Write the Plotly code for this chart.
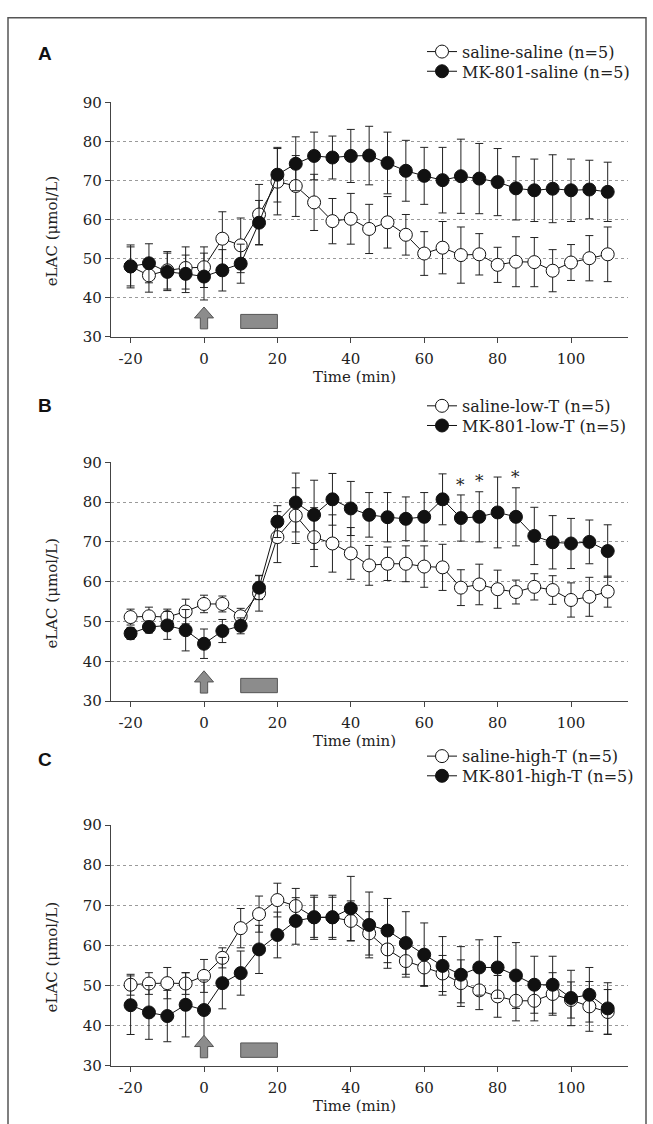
import plotly.graph_objects as go

# ---------------- data ----------------
TIME_MIN = [-20, -15, -10, -5, 0, 5, 10, 15, 20, 25, 30, 35, 40, 45, 50,
            55, 60, 65, 70, 75, 80, 85, 90, 95, 100, 105, 110]
X_TICKS = [-20, 0, 20, 40, 60, 80, 100]
X_TICKTEXT = ["-20", "0", "20", "40", "60", "80", "100"]
Y_TICKS = [30, 40, 50, 60, 70, 80, 90]

# Panel A
A_SAL_NAME = "saline-saline (n=5)"
A_SAL_MEAN = [48.0, 45.7, 47.0, 47.6, 47.8, 55.1, 53.4, 61.3, 69.7, 68.6, 64.4, 59.6, 60.2, 57.6,
              59.3, 56.1, 51.3, 52.8, 50.9, 51.1, 48.4, 49.2, 49.1, 46.9, 49.0, 50.1, 51.1]
A_SAL_SEM = [5.0, 4.3, 4.8, 5.4, 5.2, 6.9, 7.0, 7.7, 8.5, 7.8, 7.2, 5.8, 6.5, 6.3,
             6.6, 5.2, 5.6, 6.7, 7.2, 5.3, 4.5, 6.4, 6.3, 5.4, 4.6, 5.8, 7.0]
A_MK_NAME = "MK-801-saline (n=5)"
A_MK_MEAN = [48.0, 48.8, 46.6, 46.1, 45.4, 47.0, 48.7, 59.2, 71.5, 74.3, 76.3, 75.9, 76.3, 76.4,
             74.5, 72.5, 71.2, 70.1, 71.1, 70.5, 69.6, 68.0, 67.5, 67.9, 67.5, 67.7, 67.1]
A_MK_SEM = [5.5, 5.0, 4.8, 4.8, 6.0, 5.3, 5.0, 5.7, 7.0, 6.9, 6.1, 5.5, 6.8, 7.5,
            7.9, 7.8, 7.3, 8.4, 9.5, 9.0, 8.6, 8.1, 8.0, 8.7, 8.0, 7.5, 7.6]

# Panel B
B_SAL_NAME = "saline-low-T (n=5)"
B_SAL_MEAN = [51.1, 51.3, 51.1, 52.5, 54.4, 54.4, 51.3, 57.1, 71.2, 76.6, 71.2, 69.6, 67.1, 64.1,
              64.5, 64.5, 63.8, 63.6, 58.5, 59.3, 58.1, 57.4, 58.7, 57.9, 55.4, 56.2, 57.5]
B_SAL_SEM = [2.0, 2.3, 2.0, 3.1, 2.2, 2.0, 2.0, 4.5, 6.4, 7.0, 7.4, 7.2, 6.5, 5.0,
             4.2, 4.5, 5.2, 5.8, 4.5, 5.1, 4.8, 3.0, 3.3, 3.6, 4.3, 4.9, 3.9]
B_MK_NAME = "MK-801-low-T (n=5)"
B_MK_MEAN = [47.0, 48.6, 49.0, 47.8, 44.4, 47.6, 48.9, 58.5, 75.1, 79.9, 76.8, 80.7, 78.4, 76.8,
             76.2, 75.8, 76.3, 80.7, 76.0, 76.3, 77.4, 76.3, 71.5, 69.9, 69.6, 70.0, 67.7]
B_MK_SEM = [1.5, 1.5, 3.5, 5.2, 3.7, 2.9, 2.0, 3.0, 4.0, 7.4, 8.7, 6.5, 6.8, 5.6,
            6.2, 5.5, 6.1, 6.4, 5.8, 6.3, 8.9, 7.3, 7.2, 6.7, 6.3, 5.5, 6.6]
B_SIG_TIMES = [70, 75, 85]

# Panel C
C_SAL_NAME = "saline-high-T (n=5)"
C_SAL_MEAN = [50.2, 50.5, 50.6, 50.5, 52.4, 56.9, 64.3, 67.8, 71.3, 69.8, 67.0, 67.0, 66.1, 63.0,
              59.0, 56.1, 54.5, 53.0, 50.6, 48.8, 47.3, 46.2, 46.2, 47.9, 46.4, 44.8, 43.4]
C_SAL_SEM = [2.6, 2.7, 3.9, 2.7, 4.1, 2.5, 4.9, 4.5, 4.2, 4.4, 5.0, 5.0, 5.0, 5.4,
             4.7, 4.0, 4.5, 4.5, 5.8, 4.8, 5.2, 5.0, 5.0, 5.3, 4.5, 6.2, 5.6]
C_MK_NAME = "MK-801-high-T (n=5)"
C_MK_MEAN = [45.1, 43.3, 42.4, 45.2, 43.9, 50.6, 53.1, 59.0, 62.6, 66.1, 67.0, 67.0, 69.2, 65.1,
             63.7, 60.6, 57.7, 54.9, 52.7, 54.5, 54.5, 52.5, 50.2, 50.2, 46.9, 47.7, 44.3]
C_MK_SEM = [7.3, 6.7, 6.4, 8.0, 7.5, 6.4, 5.5, 6.0, 5.7, 5.8, 5.5, 5.5, 8.0, 8.2,
            8.0, 7.8, 7.9, 7.3, 7.0, 6.9, 7.7, 8.2, 7.1, 7.1, 6.9, 6.8, 6.4]

# experimental events (minutes)
INJECTION_TIME = 0
STIM_START, STIM_END = 10, 20

# ---------------- layout constants ----------------
W, H = 653, 1124
SERIF = "DejaVu Serif"
TXT = "#222222"
AX = "#444444"


def py(v):  # pixel-from-top -> paper fraction
    return 1 - v / H


def px(v):
    return v / W


PANELS = [
    dict(letter="A", sal=(A_SAL_NAME, A_SAL_MEAN, A_SAL_SEM), mk=(A_MK_NAME, A_MK_MEAN, A_MK_SEM),
         top=95.0, bottom=333.0, rows=(43, 63), letter_y=45, sig=[]),
    dict(letter="B", sal=(B_SAL_NAME, B_SAL_MEAN, B_SAL_SEM), mk=(B_MK_NAME, B_MK_MEAN, B_MK_SEM),
         top=460.7, bottom=703.3, rows=(403, 423), letter_y=403, sig=B_SIG_TIMES),
    dict(letter="C", sal=(C_SAL_NAME, C_SAL_MEAN, C_SAL_SEM), mk=(C_MK_NAME, C_MK_MEAN, C_MK_SEM),
         top=829.3, bottom=1074.0, rows=(759, 779), letter_y=763, sig=[]),
]

X_LEFT, X_RIGHT = 111.0, 628.0
X_RANGE = [-25.34, 115.53]
LEG_FONT = 16
LEG_ROW_OFFSET = 5 + (LEG_FONT * 1.3 + 3) / 2  # legend top -> first row centre

fig = go.Figure()
annotations = []
shapes = []
layout = {}
leg_count = 0

for i, p in enumerate(PANELS):
    n = "" if i == 0 else str(i + 1)
    xa, ya = "x" + n, "y" + n

    for (name, mean, sem), filled, row in ((p["sal"], False, p["rows"][0]),
                                           (p["mk"], True, p["rows"][1])):
        leg_count += 1
        leg = "legend" if leg_count == 1 else "legend%d" % leg_count
        fig.add_trace(go.Scatter(
            x=TIME_MIN, y=mean, name=name, mode="lines+markers",
            xaxis=xa, yaxis=ya, legend=leg,
            line=dict(color="#111111", width=1),
            marker=dict(symbol="circle", size=13,
                        color="#111111" if filled else "white",
                        line=dict(color="#111111", width=1)),
            error_y=dict(type="data", array=sem, visible=True,
                         color="#222222", thickness=1, width=4),
            cliponaxis=False,
        ))
        layout[leg] = dict(
            x=px(422), xanchor="left", y=py(row - LEG_ROW_OFFSET), yanchor="top",
            bgcolor="rgba(0,0,0,0)", borderwidth=0,
            font=dict(family=SERIF, size=LEG_FONT, color=TXT), itemwidth=30,
        )

    layout["xaxis" + n] = dict(
        domain=[px(X_LEFT), px(X_RIGHT)], range=X_RANGE, anchor=ya,
        tickvals=X_TICKS, ticktext=X_TICKTEXT,
        showline=True, linecolor=AX, linewidth=1.2, ticks="outside", ticklen=5,
        tickcolor=AX, tickwidth=1, showgrid=False, zeroline=False,
        tickfont=dict(family=SERIF, size=15, color=TXT), ticklabelstandoff=3,
    )
    layout["yaxis" + n] = dict(
        domain=[py(p["bottom"]), py(p["top"])], range=[30, 90], anchor=xa,
        tickvals=Y_TICKS, showline=True, linecolor=AX, linewidth=1.2,
        ticks="outside", ticklen=5, tickcolor=AX, tickwidth=1,
        showgrid=True, gridcolor="#9a9a9a", gridwidth=1, griddash="dot",
        zeroline=False, tickfont=dict(family=SERIF, size=15, color=TXT),
    )

    # panel letter
    annotations.append(dict(text="<b>%s</b>" % p["letter"], xref="paper", yref="paper",
                            x=px(45), y=py(p["letter_y"]), xanchor="center", yanchor="middle",
                            showarrow=False,
                            font=dict(family="Liberation Sans", size=19, color="#111111")))
    # axis titles
    annotations.append(dict(text="Time (min)", xref="paper", yref="paper",
                            x=px(354), y=py(p["bottom"] + 41), xanchor="center", yanchor="middle",
                            showarrow=False, font=dict(family=SERIF, size=15, color=TXT)))
    annotations.append(dict(text="eLAC (μmol/L)", xref="paper", yref=ya, x=px(52), y=57,
                            xanchor="center", yanchor="middle", textangle=-90, showarrow=False,
                            font=dict(family=SERIF, size=15, color=TXT)))
    # significance marks
    mk_mean, mk_sem = p["mk"][1], p["mk"][2]
    for t in p["sig"]:
        k = TIME_MIN.index(t)
        annotations.append(dict(text="*", xref=xa, yref=ya, x=t, y=mk_mean[k] + mk_sem[k] + 2.6,
                                xanchor="center", yanchor="middle",
                                showarrow=False, font=dict(family=SERIF, size=17, color=TXT)))

    # injection arrow and stimulation bar
    t0 = INJECTION_TIME
    path = ("M {a},{y0} L {b},{y0} L {b},{y1} L {c},{y1} L {t},{y2} L {d},{y1} L {e},{y1} Z"
            .format(a=t0 - 1.0, b=t0 + 1.0, c=t0 + 2.6, d=t0 - 2.6, e=t0 - 1.0, t=t0,
                    y0=32.0, y1=34.8, y2=37.6))
    shapes.append(dict(type="path", path=path, xref=xa, yref=ya,
                       fillcolor="#8c8c8c", line=dict(color="#555555", width=1)))
    shapes.append(dict(type="rect", xref=xa, yref=ya, x0=STIM_START, x1=STIM_END, y0=32.1, y1=35.7,
                       fillcolor="#8c8c8c", line=dict(color="#555555", width=1)))

# outer frame
shapes.append(dict(type="rect", xref="paper", yref="paper", x0=px(8), x1=px(646),
                   y0=-0.02, y1=py(9), line=dict(color="#555555", width=1.5),
                   fillcolor="rgba(0,0,0,0)", layer="below"))

fig.update_layout(
    width=W, height=H, margin=dict(l=0, r=0, t=0, b=0),
    paper_bgcolor="white", plot_bgcolor="white",
    font=dict(family=SERIF, size=15, color=TXT),
    annotations=annotations, shapes=shapes, showlegend=True,
    **layout,
)

fig.write_html("out.html")
